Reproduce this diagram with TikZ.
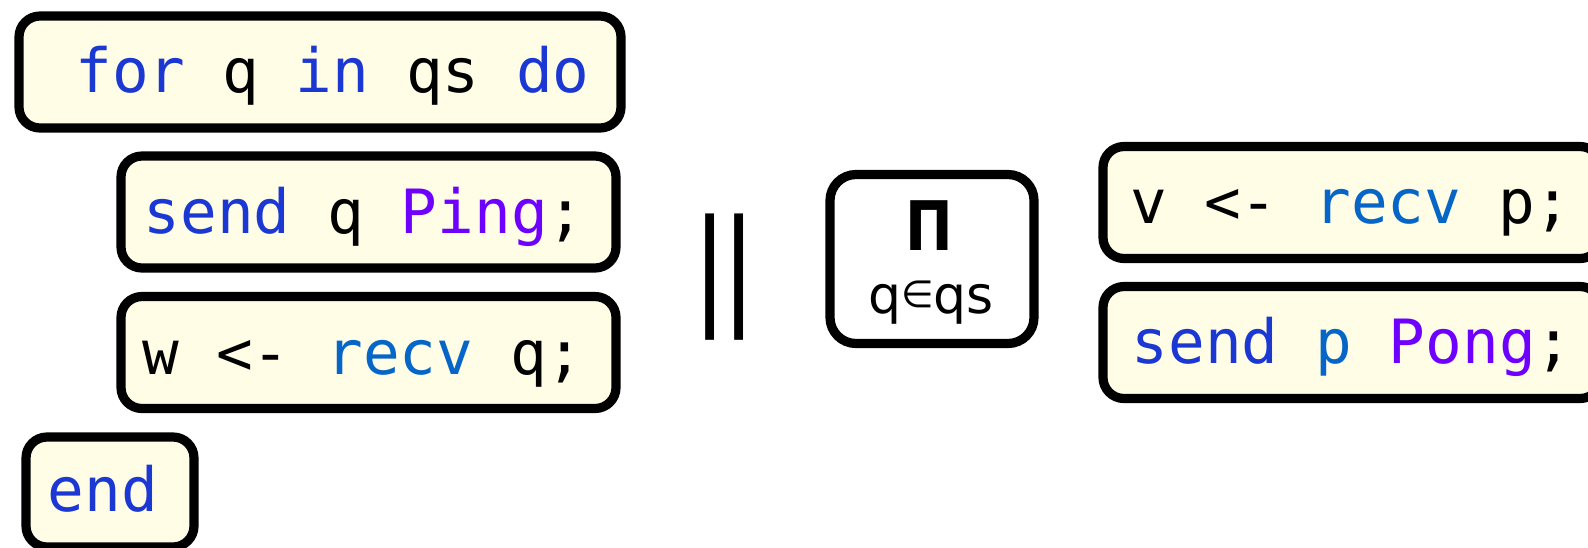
\documentclass[tikz,border=0pt]{standalone}
\usepackage{fontspec}
\newfontfamily\codefont{DejaVu Sans Mono}
\newfontfamily\sansf{DejaVu Sans}
\definecolor{kw}{RGB}{28,56,210}
\definecolor{fn}{RGB}{5,102,200}
\definecolor{ctor}{RGB}{110,0,255}
\definecolor{boxfill}{RGB}{255,253,230}
\newcommand{\K}[1]{\textcolor{kw}{#1}}
\newcommand{\F}[1]{\textcolor{fn}{#1}}
\newcommand{\C}[1]{\textcolor{ctor}{#1}}
\tikzset{
  codebox/.style={draw=black, line width=4.6pt, fill=boxfill, rounded corners=10.5pt,
    inner sep=0pt, minimum height=56pt},
  pibox/.style={draw=black, line width=4.6pt, fill=white, rounded corners=13pt,
    inner sep=0pt},
  codetext/.style={anchor=base west, inner sep=0pt, font=\codefont\fontsize{30.5pt}{36pt}\selectfont},
}
\begin{document}
\begin{tikzpicture}[x=0.5pt,y=-0.5pt]
\useasboundingbox (0,0) rectangle (1588,547);
% left column
\node[codebox, minimum width=301pt] (b1) at (320,72) {};
\node[codebox, minimum width=247.5pt] (b2) at (368.5,212) {};
\node[codebox, minimum width=247.5pt] (b3) at (368.5,352.5) {};
\node[codebox, minimum width=84pt, minimum height=55pt] (b4) at (110,492) {};
\node[codetext] (t1) at ([xshift=12pt,yshift=-10pt]b1.west) {\hphantom{x}\K{for} q \K{in} qs \K{do}};
\node[codetext] (t2) at ([xshift=13.5pt,yshift=-10.5pt]b2.west) {\K{send} q \C{Ping};};
\node[codetext] (t3) at ([xshift=13pt,yshift=-11pt]b3.west) {w <- \F{recv} q;};
\node[codetext] (t4) at ([xshift=13pt,yshift=-9.5pt]b4.west) {\K{end}};
% parallel bars
\node[anchor=base west, inner sep=0pt, font=\sansf\bfseries\fontsize{40pt}{40pt}\selectfont] (par) at (695,310) {\scalebox{1}[1.58]{||}};
% product box
\node[pibox, minimum width=102pt, minimum height=84.5pt] (pi) at (932,259) {};
\node[anchor=base, inner sep=0pt, font=\sansf\bfseries\fontsize{33.5pt}{34pt}\selectfont] (pisym) at (929,250) {\scalebox{0.85}[1.02]{Π}};
\node[anchor=base, inner sep=0pt, font=\sansf\fontsize{26pt}{28pt}\selectfont] (pisub) at (931,313) {q\raisebox{0.1em}{\scalebox{0.72}{∈}}qs};
% right column
\node[codebox, minimum width=249pt] (b5) at (1352,202.5) {};
\node[codebox, minimum width=249pt] (b6) at (1352,342.5) {};
\node[codetext] (t5) at ([xshift=16pt,yshift=-10.5pt]b5.west) {v <- \F{recv} p;};
\node[codetext] (t6) at ([xshift=16.5pt,yshift=-10.5pt]b6.west) {\K{send} \F{p} \C{Pong};};
\end{tikzpicture}
\end{document}
